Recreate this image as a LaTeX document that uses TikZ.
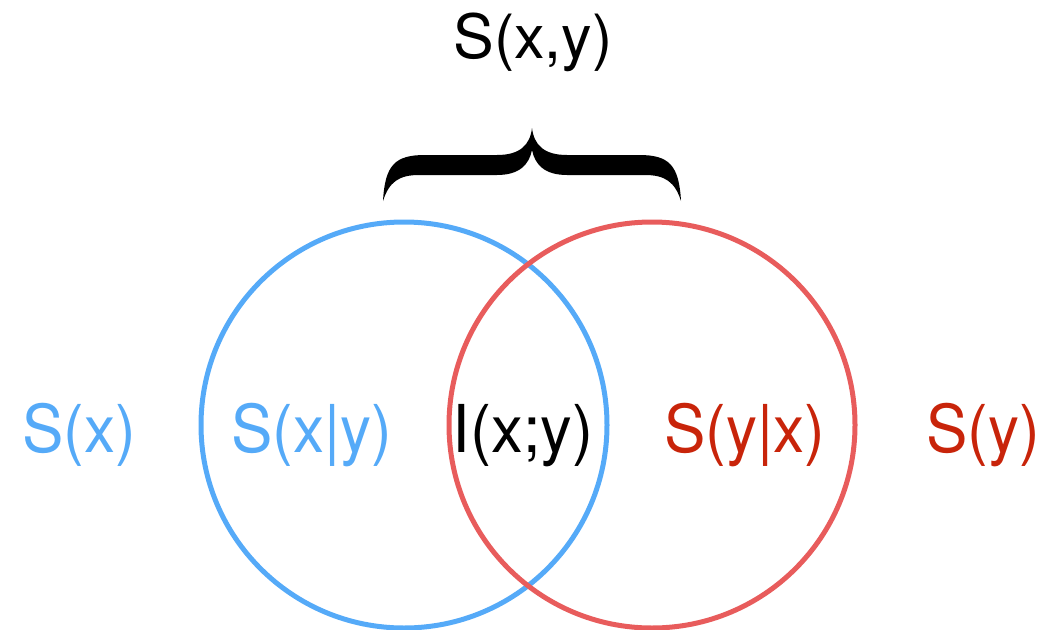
\documentclass[tikz,border=0pt]{standalone}
\usepackage{fontspec}
\setmainfont{TeX Gyre Heros}
\definecolor{cblue}{RGB}{85,170,248}
\definecolor{cred}{RGB}{232,92,92}
\definecolor{tred}{RGB}{200,36,10}
\begin{document}
\begin{tikzpicture}[x=1pt,y=-1pt,
  lbl/.style={anchor=base,inner sep=0pt,font=\fontsize{66}{70}\selectfont},
  ring/.style={line width=5pt}]
\useasboundingbox (0,0) rectangle (1062,629);
\draw[ring,cblue] (404,425) circle[radius=203];
\draw[ring,cred] (652,425) circle[radius=203];
\node[lbl,text=cblue] (sx) at (79,452) {\scalebox{0.94}[1]{S(x)}};
\node[lbl,text=cblue] (sxy) at (312,452) {\scalebox{0.94}[1]{S(x|y)}};
\node[lbl,text=black] (ixy) at (523,452) {\scalebox{0.96}[1]{I(x;y)}};
\node[lbl,text=tred] (syx) at (745,452) {\scalebox{0.94}[1]{S(y|x)}};
\node[lbl,text=tred] (sy) at (983,452) {\scalebox{0.94}[1]{S(y)}};
\node[lbl,text=black,font=\fontsize{61}{64}\selectfont] (sxyj) at (533,58) {\scalebox{1.0}[1]{S(x,y)}};
\fill[black] (383,201) .. controls (385,165) and (395,155) .. (425,155) -- (497,155)
  .. controls (520,155) and (530,145) .. (532,128)
  .. controls (534,145) and (544,155) .. (567,155) -- (639,155)
  .. controls (669,155) and (679,165) .. (681,201)
  .. controls (675,182) and (665,175) .. (645,175) -- (567,175)
  .. controls (545,175) and (535,165) .. (532,150)
  .. controls (529,165) and (519,175) .. (497,175) -- (419,175)
  .. controls (399,175) and (389,182) .. (383,201) -- cycle;
\end{tikzpicture}
\end{document}
